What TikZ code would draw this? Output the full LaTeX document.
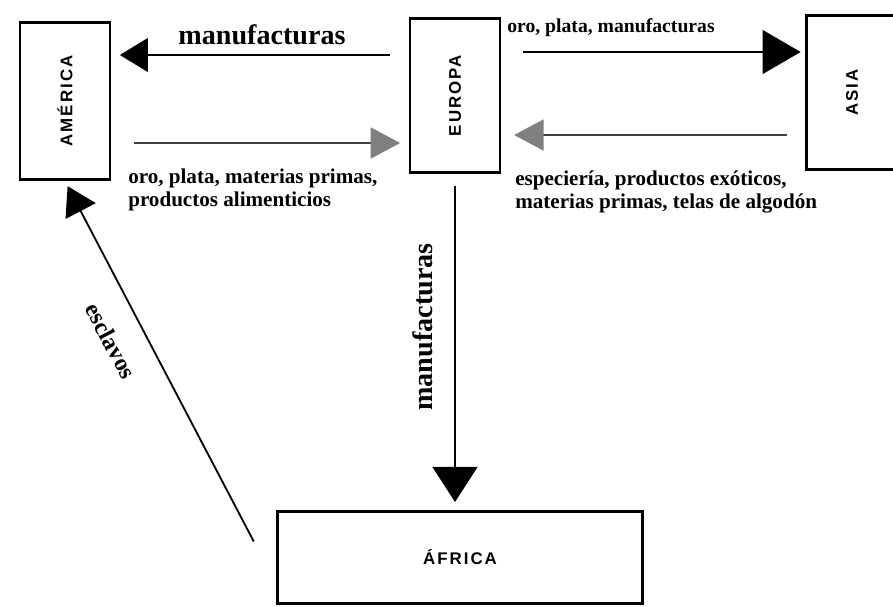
\documentclass[tikz,border=0pt]{standalone}
\usepackage{fontspec}
\setmainfont{Liberation Serif}
\newfontfamily\cajafont[LetterSpace=12]{Liberation Sans}
\usetikzlibrary{arrows.meta,calc}

\tikzset{
  caja/.style={draw, line width=2pt, inner sep=0pt, font=\cajafont\bfseries\fontsize{12}{14}\selectfont},
  etiqueta/.style={font=\bfseries\fontsize{15}{16}\selectfont, inner sep=0pt, align=left},
  flujo/.style={line width=1.5pt, -{Triangle[length=20pt, width=24pt]}},
  flujogris/.style={line width=1.5pt, draw=black!75, -{Triangle[length=21pt, width=22pt, color=black!50]}},
}

\begin{document}
\begin{tikzpicture}[x=0.025cm, y=-0.025cm]
    \useasboundingbox (0,0) rectangle (893,606);
    % Continentes
    \node[caja, minimum width=64pt, minimum height=112pt] (america) at (65,101) {\rotatebox{90}{AMÉRICA}};
    \node[caja, minimum width=64pt, minimum height=110pt] (europa) at (455,95.5) {\rotatebox{90}{EUROPA}};
    \node[caja, minimum width=65pt, minimum height=110pt] (asia) at (852,92.5) {\rotatebox{90}{ASIA}};
    \node[caja, minimum width=260pt, minimum height=65pt] (africa) at (460,557.5) {ÁFRICA};
    % Europa - America
    \draw[flujo, shorten <=13pt, shorten >=6pt] (europa.west |- 0,55) -- (america.east |- 0,55);
    \node[etiqueta, font=\bfseries\fontsize{20}{22}\selectfont] (manuf1) at (262,35) {manufacturas};
    \draw[flujogris, shorten <=16pt, shorten >=6pt] (america.east |- 0,143) -- (europa.west |- 0,143);
    \node[etiqueta, anchor=west] (prod1) at (128,190) {oro, plata, materias primas,\\productos alimenticios};
    % Europa - Asia
    \draw[flujo, shorten <=15pt, shorten >=3pt, -{Triangle[length=27pt, width=31pt]}] (europa.east |- 0,52) -- (asia.west |- 0,52);
    \node[etiqueta, anchor=west, font=\bfseries\fontsize{14}{16}\selectfont] (manuf2) at (507,28) {oro, plata, manufacturas};
    \draw[flujogris, shorten <=13pt, shorten >=9pt] (asia.west |- 0,135) -- (europa.east |- 0,135);
    \node[etiqueta, anchor=west] (prod2) at (515,192) {especiería, productos exóticos,\\materias primas, telas de algodón};
    % Europa - Africa
    \draw[flujo, shorten <=8pt, shorten >=6pt, -{Triangle[length=25pt, width=32pt]}] (europa.south) -- (europa.south |- africa.north);
    \node[etiqueta, rotate=90, font=\bfseries\fontsize{20}{22}\selectfont] (manuf3) at (423,327) {manufacturas};
    % Africa - America
    \draw[flujo, line width=1.3pt, shorten >=4pt] ($(africa.west)+(-22,-16)$) -- (america.south);
    \node[etiqueta, rotate=-62, font=\bfseries\fontsize{17}{19}\selectfont] (esclavos) at (111,341) {esclavos};
\end{tikzpicture}
\end{document}
